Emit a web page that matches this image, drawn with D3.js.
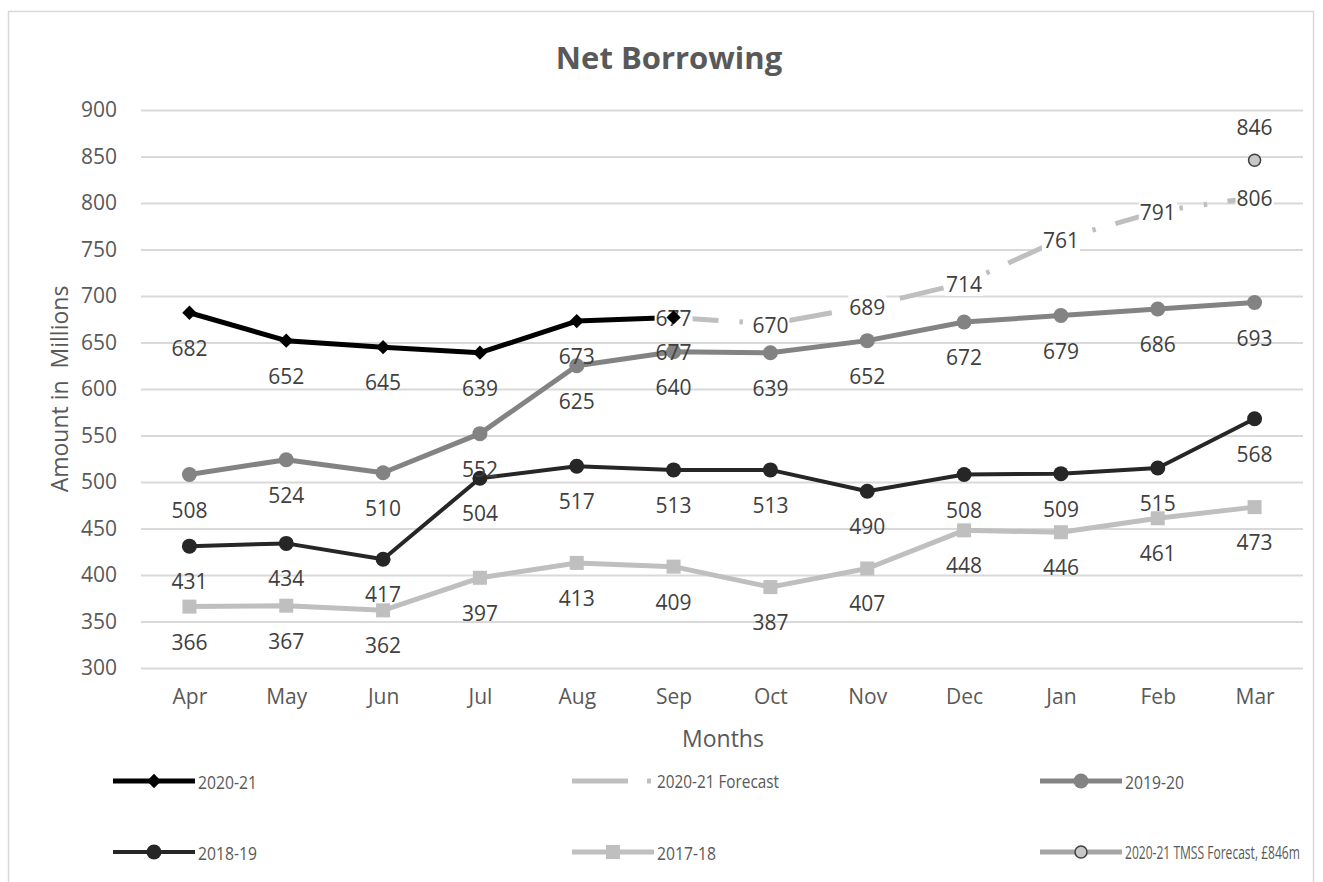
<!DOCTYPE html>
<html>
<head>
<meta charset="utf-8">
<script src="https://cdn.jsdelivr.net/npm/d3@7/dist/d3.min.js"></script>
<style>
  html, body { margin: 0; padding: 0; background: #ffffff; }
  svg { display: block; font-family: "Open Sans", "Noto Sans", sans-serif; }
</style>
</head>
<body>
<svg id="chart" width="1323" height="882"></svg>
<script>
// Monthly net borrowing, £ millions
const months = ["Apr", "May", "Jun", "Jul", "Aug", "Sep", "Oct", "Nov", "Dec", "Jan", "Feb", "Mar"];
const actual2021   = [682, 652, 645, 639, 673, 677, null, null, null, null, null, null];
const forecast2021 = [null, null, null, null, null, 677, 670, 689, 714, 761, 791, 806];
const actual1920   = [508, 524, 510, 552, 625, 640, 639, 652, 672, 679, 686, 693];
const actual1819   = [431, 434, 417, 504, 517, 513, 513, 490, 508, 509, 515, 568];
const actual1718   = [366, 367, 362, 397, 413, 409, 387, 407, 448, 446, 461, 473];
const tmssForecast = [null, null, null, null, null, null, null, null, null, null, null, 846];
const yTicks = [300, 350, 400, 450, 500, 550, 600, 650, 700, 750, 800, 850, 900];

const svg = d3.select("#chart");
const plot = { left: 141, right: 1303, top: 110, bottom: 668 };

const x = d3.scalePoint().domain(months).range([plot.left, plot.right]).padding(0.5);
const y = d3.scaleLinear().domain([300, 900]).range([plot.bottom, plot.top]);

// outer chart frame
svg.append("rect")
  .attr("x", 8.5).attr("y", 11.5).attr("width", 1305).attr("height", 900)
  .attr("fill", "#ffffff").attr("stroke", "#d9d9d9").attr("stroke-width", 1.5);

// title
svg.append("text")
  .attr("x", 669).attr("y", 57).attr("text-anchor", "middle").attr("dominant-baseline", "central")
  .attr("font-size", 31).attr("font-weight", "bold").attr("fill", "#595959")
  .text("Net Borrowing");

// y axis with gridlines
const yAxis = svg.append("g")
  .attr("transform", `translate(${plot.left},0)`)
  .call(d3.axisLeft(y).tickValues(yTicks).tickSize(-(plot.right - plot.left)).tickPadding(24));
yAxis.select(".domain").remove();
yAxis.selectAll(".tick line").attr("stroke", "#d9d9d9").attr("stroke-width", 2);
yAxis.selectAll(".tick text").attr("fill", "#595959").attr("font-size", 21)
  .attr("font-family", "'Open Sans', sans-serif");

// x axis labels
const xAxis = svg.append("g")
  .attr("transform", `translate(0,${plot.bottom})`)
  .call(d3.axisBottom(x).tickSize(0).tickPadding(21));
xAxis.select(".domain").remove();
xAxis.selectAll(".tick text").attr("fill", "#595959").attr("font-size", 21)
  .attr("font-family", "'Open Sans', sans-serif");

// axis titles
svg.append("text")
  .attr("transform", "translate(59,389) rotate(-90)")
  .attr("text-anchor", "middle").attr("dominant-baseline", "central")
  .attr("font-size", 23).attr("fill", "#595959")
  .attr("xml:space", "preserve")
  .text("Amount in  Millions");
svg.append("text")
  .attr("x", 723).attr("y", 738).attr("text-anchor", "middle").attr("dominant-baseline", "central")
  .attr("font-size", 23).attr("fill", "#595959")
  .text("Months");

const diamond = d3.symbol().type(d3.symbolDiamond2).size(130);
const circle = r => d3.symbol().type(d3.symbolCircle).size(Math.PI * r * r);
const square = d3.symbol().type(d3.symbolSquare).size(196);

const series = [
  { name: "2020-21", values: actual2021, color: "#000000", width: 5, marker: diamond(), fill: "#000000", labelDy: 35, legendW: 59 },
  { name: "2020-21 Forecast", values: forecast2021, color: "#bfbfbf", width: 5, dash: "45,21,3.5,21,3.5,20.5", labelDy: 1, boxed: true, legendW: 122 },
  { name: "2019-20", values: actual1920, color: "#838383", width: 5, marker: circle(7.5)(), fill: "#838383", labelDy: 35, legendW: 59 },
  { name: "2018-19", values: actual1819, color: "#262626", width: 4, marker: circle(7.5)(), fill: "#262626", labelDy: 35, legendW: 59 },
  { name: "2017-18", values: actual1718, color: "#bfbfbf", width: 5, marker: square(), fill: "#bfbfbf", labelDy: 35, legendW: 59 },
  { name: "2020-21 TMSS Forecast, £846m", values: tmssForecast, color: "#a6a6a6", width: 5, marker: circle(6)(), fill: "#c8c8c8", stroke: "#404040", labelDy: -33, legendW: 175 }
];
series.forEach(s => { s.points = months.map((m, i) => ({ m, v: s.values[i] })).filter(p => p.v != null); });

const line = d3.line().x(d => x(d.m)).y(d => y(d.v));

// lines
const lineLayer = svg.append("g");
series.filter(s => s.points.length > 1).forEach(s => {
  lineLayer.append("path").datum(s.points)
    .attr("d", line)
    .attr("fill", "none")
    .attr("stroke", s.color)
    .attr("stroke-width", s.width)
    .attr("stroke-linejoin", "round")
    .attr("stroke-dasharray", s.dash || null);
});

// forecast labels sit on the line with a white backing
const boxedLayer = svg.append("g");
series.filter(s => s.boxed).forEach(s => {
  const g = boxedLayer.selectAll(null).data(s.points).join("g")
    .attr("transform", p => `translate(${x(p.m)},${y(p.v) + s.labelDy})`);
  g.append("rect").attr("x", -19).attr("y", -12).attr("width", 38).attr("height", 24).attr("fill", "#ffffff");
  g.append("text")
    .attr("text-anchor", "middle").attr("dominant-baseline", "central")
    .attr("font-size", 21).attr("fill", "#404040")
    .text(p => p.v);
});

// markers
const markerLayer = svg.append("g");
series.filter(s => s.marker).forEach(s => {
  markerLayer.selectAll(null).data(s.points).join("path")
    .attr("d", s.marker)
    .attr("transform", p => `translate(${x(p.m)},${y(p.v)})`)
    .attr("fill", s.fill)
    .attr("stroke", s.stroke || "none")
    .attr("stroke-width", 1.5);
});

// remaining data labels
const labelLayer = svg.append("g");
series.filter(s => !s.boxed).forEach(s => {
  labelLayer.selectAll(null).data(s.points).join("text")
    .attr("x", p => x(p.m))
    .attr("y", p => y(p.v) + s.labelDy)
    .attr("text-anchor", "middle").attr("dominant-baseline", "central")
    .attr("font-size", 21).attr("fill", "#404040")
    .text(p => p.v);
});

// legend (entry text is narrowed horizontally to its slot width)
const legendCols = [113, 572, 1040];
const legendRows = [781, 852];
const legend = svg.append("g");
series.forEach((s, i) => {
  const lx = legendCols[i % 3], ly = legendRows[Math.floor(i / 3)];
  const g = legend.append("g");
  g.append("line")
    .attr("x1", lx).attr("x2", lx + 82).attr("y1", ly).attr("y2", ly)
    .attr("stroke", s.color).attr("stroke-width", s.width)
    .attr("stroke-dasharray", s.dash ? "56,19,4,30" : null);
  if (s.marker) {
    g.append("path").attr("d", s.marker)
      .attr("transform", `translate(${lx + 41},${ly})`)
      .attr("fill", s.fill).attr("stroke", s.stroke || "none").attr("stroke-width", 1.5);
  }
  const t = g.append("g").attr("transform", `translate(${lx + 85},${ly})`);
  const txt = t.append("text")
    .attr("x", 0).attr("y", 0).attr("dominant-baseline", "central")
    .attr("font-size", 19).attr("fill", "#595959")
    .text(s.name);
  const natural = txt.node().getComputedTextLength();
  t.attr("transform", `translate(${lx + 85},${ly}) scale(${Math.min(1, s.legendW / natural)},1)`);
});
</script>
</body>
</html>
